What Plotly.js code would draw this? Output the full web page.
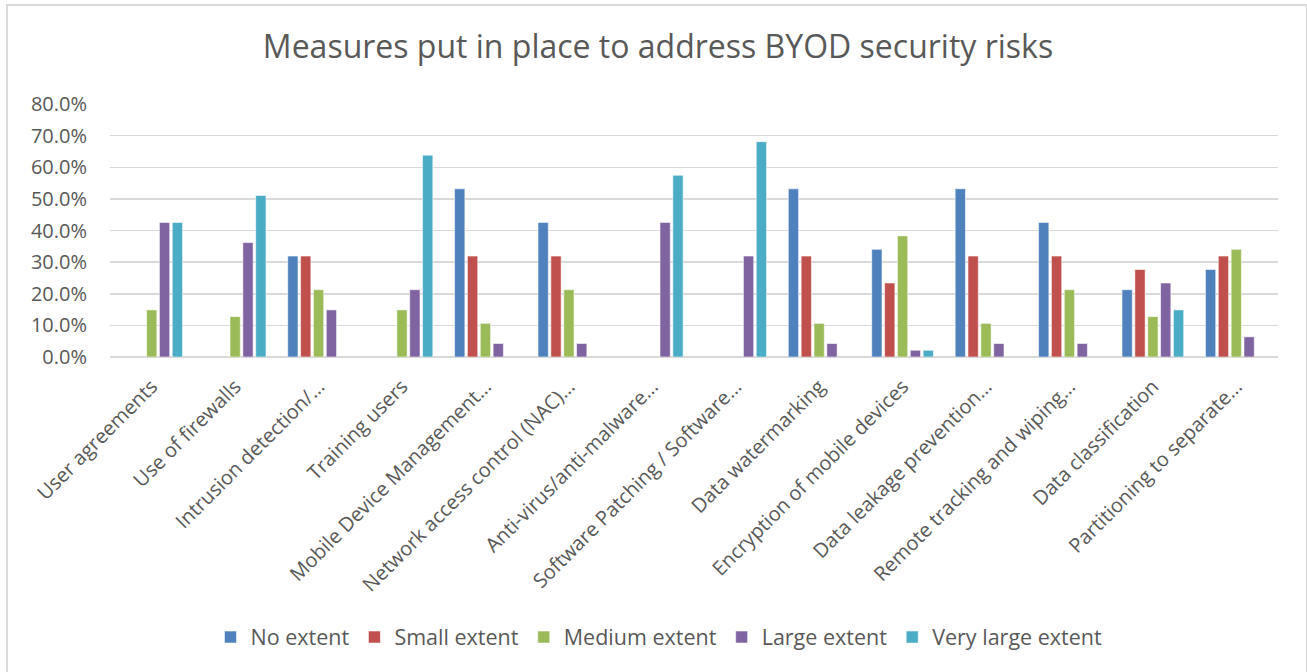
<!DOCTYPE html>
<html>
<head>
<meta charset="utf-8">
<script src="https://cdn.plot.ly/plotly-3.0.1.min.js"></script>
<style>
  html, body { margin: 0; padding: 0; background: #ffffff; overflow: hidden; }
  #chart { position: absolute; left: 0; top: 0; width: 1307px; height: 672px; }
  #frame { position: absolute; left: 6px; top: 4px; width: 1298px; height: 700px;
           border: 2px solid #d9d9d9; pointer-events: none; }
</style>
</head>
<body>
<div id="chart"></div>
<div id="frame"></div>
<script>
// Survey measures (category labels as shown on the axis)
const categories = [
  "User agreements",
  "Use of firewalls",
  "Intrusion detection/…",
  "Training users",
  "Mobile Device Management…",
  "Network access control (NAC)…",
  "Anti-virus/anti-malware…",
  "Software Patching / Software…",
  "Data watermarking",
  "Encryption of mobile devices",
  "Data leakage prevention…",
  "Remote tracking and wiping…",
  "Data classification",
  "Partitioning to separate…"
];

const seriesNames = ["No extent", "Small extent", "Medium extent", "Large extent", "Very large extent"];

// Share of respondents per measure (fractions)
const noExtent        = [null,   null,   0.3191, null,   0.5319, 0.4255, null,   null,   0.5319, 0.3404, 0.5319, 0.4255, 0.2128, 0.2766];
const smallExtent     = [null,   null,   0.3191, null,   0.3191, 0.3191, null,   null,   0.3191, 0.2340, 0.3191, 0.3191, 0.2766, 0.3191];
const mediumExtent    = [0.1489, 0.1277, 0.2128, 0.1489, 0.1064, 0.2128, null,   null,   0.1064, 0.3830, 0.1064, 0.2128, 0.1277, 0.3404];
const largeExtent     = [0.4255, 0.3617, 0.1489, 0.2128, 0.0426, 0.0426, 0.4255, 0.3191, 0.0426, 0.0213, 0.0426, 0.0426, 0.2340, 0.0638];
const veryLargeExtent = [0.4255, 0.5106, null,   0.6383, null,   null,   0.5745, 0.6809, null,   0.0213, null,   null,   0.1489, null];

const seriesValues = [noExtent, smallExtent, mediumExtent, largeExtent, veryLargeExtent];
const seriesColors = ["#4F81BD", "#C0504D", "#9BBB59", "#8064A2", "#4BACC6"];

const textColor = "#595959";
const fontFamily = "'Open Sans', 'Noto Sans', sans-serif";

const traces = seriesNames.map((name, i) => ({
  type: "bar",
  name: name,
  x: categories,
  y: seriesValues[i],
  marker: { color: seriesColors[i], line: { color: "rgba(255,255,255,0.55)", width: 1 } },
  hoverinfo: "x+y+name"
}));

const layout = {
  width: 1307,
  height: 672,
  paper_bgcolor: "rgba(0,0,0,0)",
  plot_bgcolor: "#ffffff",
  margin: { l: 110, r: 29, t: 104, b: 315 },
  title: {
    text: "Measures put in place to address BYOD security risks",
    font: { family: fontFamily, size: 32, color: textColor },
    x: 658 / 1307, xanchor: "center", xref: "container",
    y: 1 - 47 / 672, yref: "container", yanchor: "middle"
  },
  barmode: "group",
  bargap: 0.23,
  bargroupgap: 0.2,
  xaxis: {
    type: "category",
    tickangle: -45,
    tickfont: { family: fontFamily, size: 20, color: textColor },
    ticklabelstandoff: 13,
    showgrid: false,
    showline: false,
    ticks: "",
    automargin: false
  },
  yaxis: {
    range: [0, 0.8],
    dtick: 0.1,
    tickformat: ".1%",
    tickfont: { family: fontFamily, size: 20, color: textColor },
    ticklabelstandoff: 22,
    gridcolor: "#d9d9d9",
    gridwidth: 1.5,
    zeroline: true,
    zerolinecolor: "#d9d9d9",
    zerolinewidth: 1.5,
    showline: false,
    ticks: "",
    ticklen: 0,
    automargin: false
  },
  showlegend: true,
  legend: {
    orientation: "h",
    x: 0.47, xanchor: "center",
    y: -1.107, yanchor: "middle",
    font: { family: fontFamily, size: 21.5, color: textColor },
    itemclick: false, itemdoubleclick: false
  }
};

Plotly.newPlot("chart", traces, layout, { displayModeBar: false, staticPlot: true });
</script>
</body>
</html>
